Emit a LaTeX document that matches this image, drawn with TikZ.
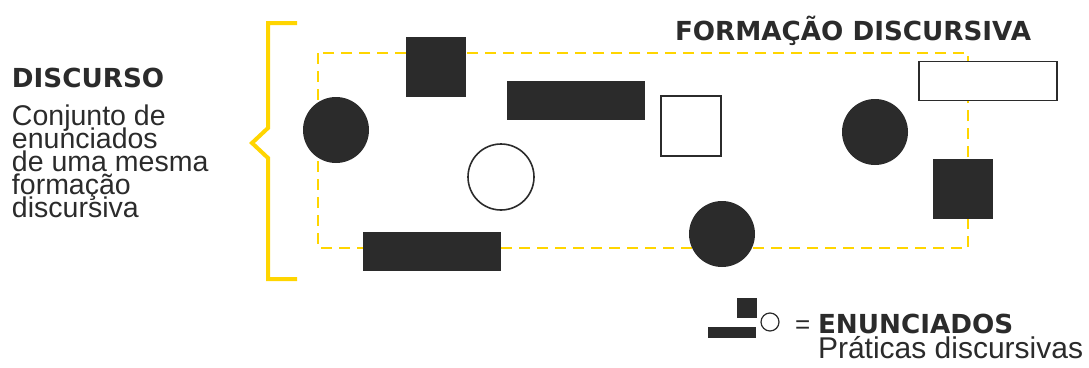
\documentclass[tikz,border=0pt]{standalone}
\usepackage{fontspec}
\setmainfont{Liberation Sans}
\newfontfamily\titlefont{DejaVu Sans}
\usetikzlibrary{positioning}
\definecolor{ink}{HTML}{2B2B2B}
\definecolor{amarelo}{HTML}{FFD500}
\newcommand\apertado{\lineskiplimit=-1000pt\lineskip=0pt\relax}
\begin{document}
\begin{tikzpicture}[
 x=1pt,y=-1pt,
 every node/.style={inner sep=0pt,outer sep=0pt,text=ink},
 cheio/.style={fill=ink,draw=none},
 vazio/.style={draw=ink,line width=1.6pt,fill=white},
 bola/.style={circle,minimum size=66pt},
 quad/.style={rectangle,minimum width=60pt,minimum height=60pt},
 barra/.style={rectangle,minimum width=138pt,minimum height=39pt},
 titulo/.style={font=\fontsize{26.2}{26}\titlefont\bfseries,anchor=base west},
 texto/.style={font=\fontsize{28.5}{23}\selectfont\apertado,anchor=base west,align=left}
]
 \useasboundingbox (0,0) rectangle (1089,367);
 % formacao discursiva
 \draw[amarelo,line width=1.5pt,dash pattern=on 11pt off 7pt] (318,53) rectangle (968,248);
 \node[titulo] (fd) at (675,40) {FORMAÇÃO DISCURSIVA};
 % chave
 \draw[amarelo,line width=4pt,line join=miter] (297,23) -- (268,23) -- (268,128) -- (252,143)
   -- (268,158) -- (268,279) -- (297,279);
 \node[titulo] (disc) at (12,87) {DISCURSO};
 \node[texto] (conj) at (12,217) {Conjunto de\\enunciados\\de uma mesma\\formação\\discursiva};
 % enunciados
 \node[cheio,bola] (c1) at (336,130) {};
 \node[cheio,quad] (q1) at (436,67) {};
 \node[cheio,barra] (b1) at (576,100.5) {};
 \node[vazio,quad] (q2) at (691,126) {};
 \node[vazio,bola] (c2) at (501,177) {};
 \node[cheio,barra] (b2) at (432,251.5) {};
 \node[cheio,bola] (c3) at (722,234) {};
 \node[cheio,bola] (c4) at (875,132) {};
 \node[vazio,barra] (b3) at (988,81) {};
 \node[cheio,quad] (q3) at (963,189) {};
 % legenda
 \node[cheio,rectangle,minimum width=48pt,minimum height=11pt] (lb) at (732,332.5) {};
 \node[cheio,rectangle,minimum size=20pt] (lq) at (746.5,308) {};
 \node[vazio,circle,minimum size=18pt,line width=1.2pt] (lc) at (770,322) {};
 \node[texto,font=\fontsize{26}{26}\selectfont] (igual) at (795,333) {=};
 \node[titulo] (enun) at (818,333) {ENUNCIADOS};
 \node[texto,font=\fontsize{30}{30}\selectfont] (prat) at (818,358) {Práticas discursivas};
\end{tikzpicture}
\end{document}
